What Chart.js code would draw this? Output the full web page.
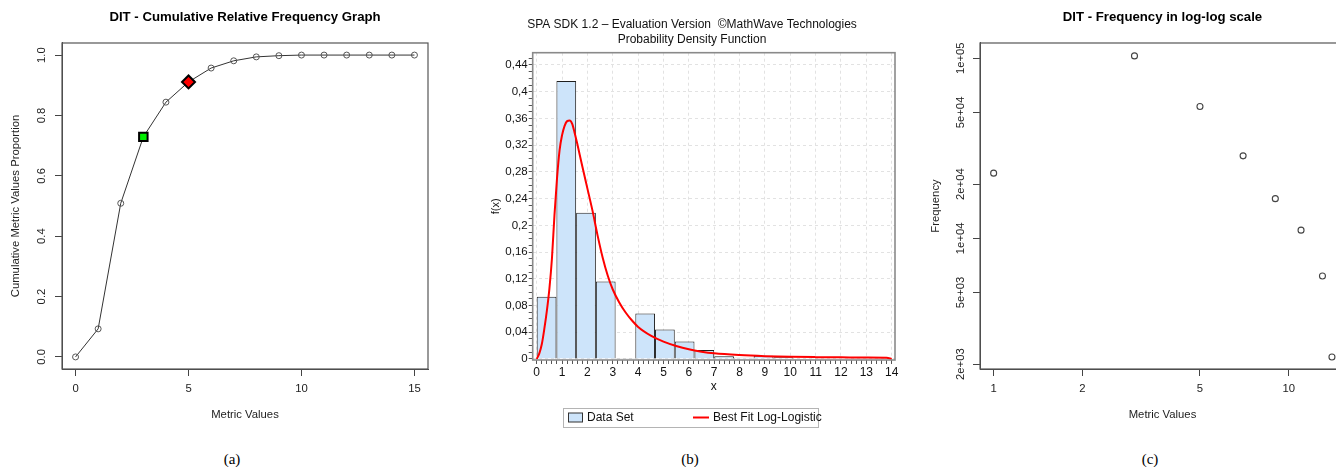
<!DOCTYPE html>
<html lang="en">
<head>
    <meta charset="UTF-8">
    <title>DIT | distribution</title>
    <style>
        html, body { margin: 0; padding: 0; background: #fff; overflow: hidden; }
        #page { position: relative; width: 1336px; height: 467px; overflow: hidden; }
        canvas { position: absolute; top: 0; }
        .cap {
            position: absolute; top: 449px; width: 60px; margin-left: -30px;
            text-align: center; line-height: 20px; font-size: 15px; color: #000;
            font-family: "Liberation Serif", "Times New Roman", serif;
        }
    </style>
</head>
<body>
<div id="page">
    <canvas id="chartA" width="450" height="440" style="left:0px"></canvas>
    <canvas id="chartB" width="424" height="440" style="left:480px"></canvas>
    <canvas id="chartC" width="440" height="440" style="left:920px"></canvas>
    <div class="cap" style="left:232px">(a)</div>
    <div class="cap" style="left:690px">(b)</div>
    <div class="cap" style="left:1150px">(c)</div>
</div>

<script src="https://cdn.jsdelivr.net/npm/chart.js"></script>
<script>
    // (a) cumulative relative frequency
    const cumX = [0, 1, 2, 3, 4, 5, 6, 7, 8, 9, 10, 11, 12, 13, 14, 15];
    const cumY = [0, 0.093, 0.509, 0.729, 0.844, 0.911, 0.957, 0.981, 0.994, 0.998, 1, 1, 1, 1, 1, 1];
    const cumMarks = [3, 5];
    const cumXTicks = [0, 5, 10, 15];
    const cumYTicks = [0, 0.2, 0.4, 0.6, 0.8, 1];
    const cumYLabels = ['0.0', '0.2', '0.4', '0.6', '0.8', '1.0'];

    // (b) histogram + fitted density
    const binCount = 18;
    const binRange = 14;
    const binHeights = [0.093, 0.416, 0.219, 0.116, 0.001, 0.068, 0.044, 0.026, 0.0135,
                        0.004, 0.002, 0.005, 0.0025, 0.0012, 0.0012, 0.0012, 0.001, 0.001];
    const fitX = [0, 0.1, 0.2, 0.3, 0.4, 0.5, 0.6, 0.7, 0.8, 0.9, 1.0, 1.1, 1.2, 1.3, 1.4, 1.5, 1.6,
                  1.8, 2.0, 2.2, 2.4, 2.6, 2.8, 3.0, 3.25, 3.5, 3.75, 4.0, 4.5, 5.0, 5.5, 6.0, 6.5,
                  7.0, 8.0, 9.0, 10, 11, 12, 13, 13.8, 14];
    const fitY = [0, 0.008, 0.022, 0.045, 0.072, 0.105, 0.15, 0.215, 0.27, 0.312, 0.335, 0.349, 0.356,
                  0.357, 0.352, 0.338, 0.322, 0.288, 0.255, 0.222, 0.185, 0.152, 0.125, 0.104, 0.085,
                  0.07, 0.058, 0.048, 0.035, 0.026, 0.0195, 0.0145, 0.011, 0.0085, 0.0058, 0.0042,
                  0.0033, 0.0028, 0.0025, 0.0022, 0.002, 0];
    const pdfXTicks = [0, 1, 2, 3, 4, 5, 6, 7, 8, 9, 10, 11, 12, 13, 14];
    const pdfYTicks = [0, 0.04, 0.08, 0.12, 0.16, 0.2, 0.24, 0.28, 0.32, 0.36, 0.4, 0.44];
    const pdfYLabels = ['0', '0,04', '0,08', '0,12', '0,16', '0,2', '0,24', '0,28', '0,32', '0,36', '0,4', '0,44'];

    // (c) frequency, log-log
    const logX = [1, 3, 5, 7, 9, 11, 13, 14];
    const logFreq = [23000, 103000, 53900, 28700, 16600, 11100, 6170, 2190];
    const logXTicks = [1, 2, 5, 10];
    const logYTicks = [2000, 5000, 10000, 20000, 50000, 100000];
    const logYLabels = ['2e+03', '5e+03', '1e+04', '2e+04', '5e+04', '1e+05'];

    const SANS = '"Liberation Sans", Arial, Helvetica, sans-serif';
    const near = (a, b) => Math.abs(a - b) < 1e-9;
    const setTicks = list => scale => { scale.ticks = list.map(v => ({ value: v })); };
    const labelFrom = (vals, labels) => v => {
        const k = vals.findIndex(t => near(t, v));
        return k < 0 ? '' : labels[k];
    };

    // box around the plotting region
    const frame = {
        id: 'frame',
        afterDatasetsDraw(chart, args, opts) {
            const { ctx, chartArea: a } = chart;
            ctx.save();
            ctx.strokeStyle = opts.color;
            ctx.lineWidth = opts.width;
            ctx.strokeRect(a.left, a.top, a.right - a.left, a.bottom - a.top);
            ctx.restore();
        }
    };

    // framed legend under the histogram
    const boxLegend = {
        id: 'boxLegend',
        afterDraw(chart, args, o) {
            const ctx = chart.ctx;
            const fit = chart.data.datasets[0];
            const bars = chart.data.datasets[1];
            const cy = o.y + o.h / 2;
            ctx.save();
            ctx.fillStyle = '#fff';
            ctx.fillRect(o.x, o.y, o.w, o.h);
            ctx.strokeStyle = '#b4b4b4';
            ctx.lineWidth = 1;
            ctx.strokeRect(o.x + 0.5, o.y + 0.5, o.w, o.h);
            ctx.fillStyle = bars.backgroundColor;
            ctx.fillRect(o.x + 5, cy - 4.5, 14, 9);
            ctx.strokeStyle = '#333';
            ctx.strokeRect(o.x + 5.5, cy - 4.5, 14, 9);
            ctx.font = '12px ' + SANS;
            ctx.fillStyle = '#111';
            ctx.textBaseline = 'middle';
            ctx.fillText(bars.label, o.x + 24, cy);
            ctx.strokeStyle = fit.borderColor;
            ctx.lineWidth = 2;
            ctx.beginPath();
            ctx.moveTo(o.x + 130, cy);
            ctx.lineTo(o.x + 146, cy);
            ctx.stroke();
            ctx.fillText(fit.label, o.x + 150, cy);
            ctx.restore();
        }
    };

    // R style axes shared by (a) and (c)
    function rAxisX(extra) {
        return Object.assign({
            position: 'bottom',
            bounds: 'data',
            ticks: { autoSkip: false, maxRotation: 0, padding: 6.5, color: '#222', font: { family: SANS, size: 11.3 } },
            grid: { drawOnChartArea: false, tickLength: 7, color: '#444' },
            border: { display: true, color: '#444' },
            title: { display: true, text: 'Metric Values', color: '#222', font: { family: SANS, size: 11.3 }, padding: { top: 0, bottom: 18.2 } },
            afterFit: s => { s.height = 71; }
        }, extra);
    }
    function rAxisY(extra, titleText, pad, width) {
        return Object.assign({
            position: 'left',
            bounds: 'data',
            ticks: { autoSkip: false, minRotation: 90, maxRotation: 90, crossAlign: 'center', padding: pad,
                     color: '#222', font: { family: SANS, size: 11.3 } },
            grid: { drawOnChartArea: false, tickLength: 7, color: '#444' },
            border: { display: true, color: '#444' },
            title: { display: true, text: titleText, color: '#222', font: { family: SANS, size: 11.3 }, padding: { top: 8.8, bottom: 0 } },
            afterFit: s => { s.width = width; }
        }, extra);
    }
    function rTitle(text) {
        return { display: true, text: text, fullSize: false, color: '#000',
                 font: { family: SANS, size: 13.2, weight: 'bold' }, padding: { top: 9.1, bottom: 18.06 } };
    }

    // ---------- (a)
    new Chart(document.getElementById('chartA'), {
        type: 'line',
        data: {
            datasets: [{
                label: 'marks',
                data: cumMarks.map(x => ({ x: x, y: cumY[cumX.indexOf(x)] })),
                showLine: false,
                pointStyle: ['rect', 'rectRot'],
                pointRadius: [6, 6.5],
                pointBackgroundColor: ['#00ee00', '#ff0000'],
                pointBorderColor: '#000',
                pointBorderWidth: 2,
                order: 0
            }, {
                label: 'cumulative',
                data: cumX.map((x, i) => ({ x: x, y: cumY[i] })),
                borderColor: '#333',
                borderWidth: 1,
                pointStyle: 'circle',
                pointRadius: 3,
                pointBorderWidth: 1,
                pointBorderColor: '#555',
                pointBackgroundColor: 'rgba(0,0,0,0)',
                tension: 0,
                order: 1
            }]
        },
        options: {
            responsive: false,
            animation: false,
            devicePixelRatio: 1,
            layout: { padding: { left: 0, right: 22, top: 0, bottom: 0 } },
            scales: {
                x: rAxisX({ type: 'linear', min: -0.6, max: 15.6, afterBuildTicks: setTicks(cumXTicks) }),
                y: rAxisY({ type: 'linear', min: -0.04, max: 1.04, afterBuildTicks: setTicks(cumYTicks) },
                          'Cumulative Metric Values Proportion', 5.5, 62)
            },
            plugins: {
                legend: { display: false },
                tooltip: { enabled: false },
                title: rTitle('DIT - Cumulative Relative Frequency Graph'),
                frame: { color: '#555', width: 1.2 }
            }
        },
        plugins: [frame]
    });
    Chart.getChart('chartA').options.scales.y.ticks.callback = labelFrom(cumYTicks, cumYLabels);
    Chart.getChart('chartA').update();

    // ---------- (b)
    const binWidth = binRange / binCount;
    const minorStepX = 0.2;
    const pdfMinorX = Array.from({ length: 71 }, (_, i) => i / 5);
    const pdfMinorY = Array.from({ length: 46 }, (_, i) => i / 100);
    const isMajorX = v => near(v, Math.round(v));
    const isMajorY = v => pdfYTicks.some(t => near(t, v));

    new Chart(document.getElementById('chartB'), {
        type: 'bar',
        data: {
            datasets: [{
                type: 'line',
                label: 'Best Fit Log-Logistic',
                data: fitX.map((x, i) => ({ x: x, y: fitY[i] })),
                borderColor: '#ff0000',
                borderWidth: 2,
                pointRadius: 0,
                cubicInterpolationMode: 'monotone',
                order: 0
            }, {
                type: 'bar',
                label: 'Data Set',
                data: binHeights.map((h, i) => ({ x: (i + 0.5) * binWidth, y: h })),
                backgroundColor: '#cde4fa',
                borderColor: '#1f1f1f',
                borderWidth: 1,
                barPercentage: 1,
                // the bar ruler follows the minor tick spacing, so widen to one bin
                categoryPercentage: binWidth / minorStepX,
                order: 1
            }]
        },
        options: {
            responsive: false,
            animation: false,
            devicePixelRatio: 1,
            layout: { padding: { left: 9, right: 9, top: 0, bottom: 0 } },
            scales: {
                x: {
                    type: 'linear',
                    bounds: 'data',
                    offset: false,
                    min: -0.158,
                    max: 14.13,
                    afterBuildTicks: setTicks(pdfMinorX),
                    ticks: {
                        autoSkip: false, maxRotation: 0, padding: 1.5, color: '#111',
                        font: { family: SANS, size: 12 },
                        callback: v => isMajorX(v) && pdfXTicks.includes(Math.round(v)) ? String(Math.round(v)) : ''
                    },
                    grid: {
                        offset: false, tickLength: 4, tickColor: '#555', tickBorderDash: [],
                        color: c => isMajorX(c.tick.value) ? '#e2e2e2' : 'rgba(0,0,0,0)'
                    },
                    border: { display: false, dash: [3, 3] },
                    title: { display: true, text: 'x', color: '#111', font: { family: SANS, size: 12 }, padding: { top: 0, bottom: 45.8 } },
                    afterFit: s => { s.height = 80; }
                },
                y: {
                    type: 'linear',
                    bounds: 'data',
                    min: -0.0015,
                    max: 0.4584,
                    afterBuildTicks: setTicks(pdfMinorY),
                    ticks: {
                        autoSkip: false, padding: 1, color: '#111',
                        font: { family: SANS, size: 11.5 },
                        callback: labelFrom(pdfYTicks, pdfYLabels)
                    },
                    grid: {
                        tickLength: 4, tickColor: '#555', tickBorderDash: [],
                        color: c => isMajorY(c.tick.value) ? '#e2e2e2' : 'rgba(0,0,0,0)'
                    },
                    border: { display: false, dash: [3, 3] },
                    title: { display: true, text: 'f(x)', color: '#111', font: { family: SANS, size: 11 }, padding: { top: 0, bottom: 0 } },
                    afterFit: s => { s.width = 43.7; }
                }
            },
            plugins: {
                legend: { display: false },
                tooltip: { enabled: false },
                title: {
                    display: true,
                    text: ['SPA SDK 1.2 \u2013 Evaluation Version  \u00a9MathWave Technologies', 'Probability Density Function'],
                    color: '#111',
                    font: { family: SANS, size: 12, weight: 'normal', lineHeight: 1.25 },
                    padding: { top: 17.5, bottom: 5.2 }
                },
                frame: { color: '#8a8a8a', width: 1.6 },
                boxLegend: { x: 83, y: 408, w: 255, h: 19 }
            }
        },
        plugins: [frame, boxLegend]
    });

    // ---------- (c)
    new Chart(document.getElementById('chartC'), {
        type: 'scatter',
        data: {
            datasets: [{
                label: 'frequency',
                data: logX.map((x, i) => ({ x: x, y: logFreq[i] })),
                pointStyle: 'circle',
                pointRadius: 3,
                pointBorderWidth: 1.1,
                pointBorderColor: '#444',
                pointBackgroundColor: 'rgba(0,0,0,0)'
            }]
        },
        options: {
            responsive: false,
            animation: false,
            devicePixelRatio: 1,
            layout: { padding: { left: 0, right: 15, top: 0, bottom: 0 } },
            scales: {
                x: rAxisX({ type: 'logarithmic', min: 0.899, max: 15.5, afterBuildTicks: setTicks(logXTicks) }),
                y: rAxisY({ type: 'logarithmic', min: 1880, max: 121500, afterBuildTicks: setTicks(logYTicks) },
                          'Frequency', -3.4, 60)
            },
            plugins: {
                legend: { display: false },
                tooltip: { enabled: false },
                title: rTitle('DIT - Frequency in log-log scale'),
                frame: { color: '#555', width: 1.2 }
            }
        },
        plugins: [frame]
    });
    const chartC = Chart.getChart('chartC');
    chartC.options.scales.x.ticks.callback = v => String(v);
    chartC.options.scales.y.ticks.callback = labelFrom(logYTicks, logYLabels);
    chartC.update();
</script>
</body>
</html>
